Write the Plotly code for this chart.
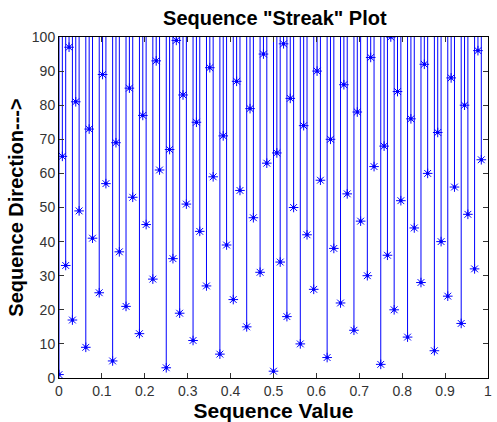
import plotly.graph_objects as go

# Sequence direction (index) values 1..100
seq_index = list(range(1, 101))
# Sequence values (van der Corput-like ordering)
seq_value = [
    0.0, 0.5, 0.25, 0.75, 0.125, 0.625, 0.375, 0.875,
    0.0625, 0.5625, 0.3125, 0.8125, 0.1875, 0.6875, 0.4375, 0.9375,
    0.03125, 0.53125, 0.28125, 0.78125, 0.15625, 0.65625, 0.40625, 0.90625,
    0.09375, 0.59375, 0.34375, 0.84375, 0.21875, 0.71875, 0.46875, 0.96875,
    0.015625, 0.515625, 0.265625, 0.765625, 0.140625, 0.640625, 0.390625, 0.890625,
    0.078125, 0.578125, 0.328125, 0.828125, 0.203125, 0.703125, 0.453125, 0.953125,
    0.046875, 0.546875, 0.296875, 0.796875, 0.171875, 0.671875, 0.421875, 0.921875,
    0.109375, 0.609375, 0.359375, 0.859375, 0.234375, 0.734375, 0.484375, 0.984375,
    0.0078125, 0.5078125, 0.2578125, 0.7578125, 0.1328125, 0.6328125, 0.3828125, 0.8828125,
    0.0703125, 0.5703125, 0.3203125, 0.8203125, 0.1953125, 0.6953125, 0.4453125, 0.9453125,
    0.0390625, 0.5390625, 0.2890625, 0.7890625, 0.1640625, 0.6640625, 0.4140625, 0.9140625,
    0.1015625, 0.6015625, 0.3515625, 0.8515625, 0.2265625, 0.7265625, 0.4765625, 0.9765625,
    0.0234375, 0.5234375, 0.2734375, 0.7734375,
]
x_ticks = [0, 0.1, 0.2, 0.3, 0.4, 0.5, 0.6, 0.7, 0.8, 0.9, 1]
x_tick_labels = ["0", "0.1", "0.2", "0.3", "0.4", "0.5", "0.6", "0.7", "0.8", "0.9", "1"]
y_ticks = [0, 10, 20, 30, 40, 50, 60, 70, 80, 90, 100]
y_top = 100

# streaks: vertical line from each point up to the top
lx, ly = [], []
for xv, yv in zip(seq_value, seq_index):
    lx += [xv, xv, None]
    ly += [yv, y_top, None]

fig = go.Figure()
fig.add_trace(go.Scatter(x=lx, y=ly, mode="lines",
                         line=dict(color="#0000ff", width=1), hoverinfo="skip"))
fig.add_trace(go.Scatter(x=seq_value, y=seq_index, mode="markers",
                         marker=dict(symbol="asterisk-open", size=8,
                                     line=dict(color="#0000ff", width=1),
                                     color="#0000ff")))
fig.add_trace(go.Scatter(x=seq_value, y=seq_index, mode="markers",
                         marker=dict(symbol="square", size=3, color="#0000ff")))

axis_font = dict(family="Liberation Sans, Arial", size=14, color="#333333")
fig.update_layout(
    width=497, height=422,
    margin=dict(l=59, r=5, t=37, b=44),
    paper_bgcolor="white", plot_bgcolor="white",
    showlegend=False,
    title=dict(text='<b>Sequence "Streak" Plot</b>', x=0.553, xanchor="center",
               y=0.957, yanchor="middle",
               font=dict(family="Liberation Sans, Arial", size=20, color="black")),
    xaxis=dict(range=[0, 1], tickvals=x_ticks, ticktext=x_tick_labels,
               showgrid=False, zeroline=False, showline=True, linecolor="black",
               linewidth=1, mirror="ticks", ticks="inside", ticklen=5,
               tickcolor="#333333", tickfont=axis_font,
               title=dict(text="<b>Sequence Value</b>", standoff=2,
                          font=dict(family="Liberation Sans, Arial", size=21, color="black"))),
    yaxis=dict(range=[0, 100], tickvals=y_ticks,
               showgrid=False, zeroline=False, showline=True, linecolor="black",
               linewidth=1, mirror="ticks", ticks="inside", ticklen=5,
               tickcolor="#333333", tickfont=axis_font,
               title=dict(text="<b>Sequence Direction---></b>", standoff=2,
                          font=dict(family="Liberation Sans, Arial", size=20, color="black"))),
)
fig.write_html("out.html")
